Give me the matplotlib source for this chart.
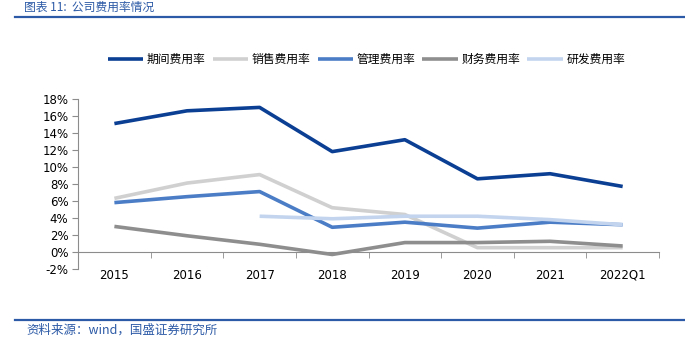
import matplotlib
matplotlib.use("Agg")
import matplotlib.pyplot as plt
from matplotlib.ticker import FuncFormatter

plt.rcParams['font.family'] = ['DejaVu Sans', 'Noto Sans CJK SC']

years = ['2015', '2016', '2017', '2018', '2019', '2020', '2021', '2022Q1']
period_rate = [15.1, 16.6, 17.0, 11.8, 13.2, 8.6, 9.2, 7.7]
sales_rate = [6.3, 8.1, 9.1, 5.2, 4.4, 0.5, 0.5, 0.5]
admin_rate = [5.8, 6.5, 7.1, 2.9, 3.5, 2.8, 3.5, 3.2]
finance_rate = [3.0, 1.9, 0.9, -0.3, 1.1, 1.1, 1.25, 0.7]
rd_years = ['2017', '2018', '2019', '2020', '2021', '2022Q1']
rd_rate = [4.2, 3.9, 4.2, 4.2, 3.8, 3.2]

series = [
    ('期间费用率', years, period_rate, '#0B3F94'),
    ('销售费用率', years, sales_rate, '#D0D0D0'),
    ('管理费用率', years, admin_rate, '#4B7DC6'),
    ('财务费用率', years, finance_rate, '#8E8E8E'),
    ('研发费用率', rd_years, rd_rate, '#C3D5EE'),
]

fig = plt.figure(figsize=(6.85, 3.52), dpi=100)
ax = fig.add_axes([0.114, 0.236, 0.848, 0.483])

xpos = {y: i for i, y in enumerate(years)}
for name, xs, vals, col in series:
    ax.plot([xpos[x] for x in xs], vals, color=col, lw=2.6, label=name,
            solid_capstyle='butt')

ax.set_xlim(-0.5, len(years) - 0.5)
ax.set_ylim(-2, 18)
ax.set_yticks(range(-2, 19, 2))
ax.yaxis.set_major_formatter(FuncFormatter(lambda v, p: f'{v:.0f}%'))

for s in ['top', 'right']:
    ax.spines[s].set_visible(False)
ax.spines['bottom'].set_position(('data', 0))
ax.spines['bottom'].set_color('#8C8C8C')
ax.spines['left'].set_color('#8C8C8C')

ax.set_xticks(range(len(years)))
ax.set_xticklabels(years)
ax.set_xticks([i - 0.5 for i in range(len(years) + 1)], minor=True)
ax.tick_params(axis='x', which='major', length=0, pad=12, labelsize=8.5)
ax.tick_params(axis='x', which='minor', length=4, color='#8C8C8C')
ax.tick_params(axis='y', length=4, color='#8C8C8C', labelsize=8.5, pad=3)

leg = fig.legend(loc='center', bbox_to_anchor=(0.535, 0.83), ncol=5, frameon=False,
                 handlelength=3.0, handletextpad=0.3, columnspacing=0.6,
                 prop={'family': 'Noto Sans CJK SC', 'size': 8.5})

# header / footer decoration
fig.add_artist(plt.Line2D([0.022, 1.0], [0.952, 0.952], color='#2C5AA6', lw=1.6))
fig.text(0.035, 0.997, '图表 11:  公司费用率情况', color='#2C5AA6', fontsize=8.5,
         style='italic', family=['Noto Sans CJK SC'], va='top')
fig.add_artist(plt.Line2D([0.022, 1.0], [0.091, 0.091], color='#2C5AA6', lw=1.6))
fig.text(0.038, 0.062, '资料来源：wind，国盛证券研究所', color='#2C5AA6', fontsize=9,
         style='italic', family=['Noto Sans CJK SC'], va='center')

fig.savefig('out.png', dpi=100)
